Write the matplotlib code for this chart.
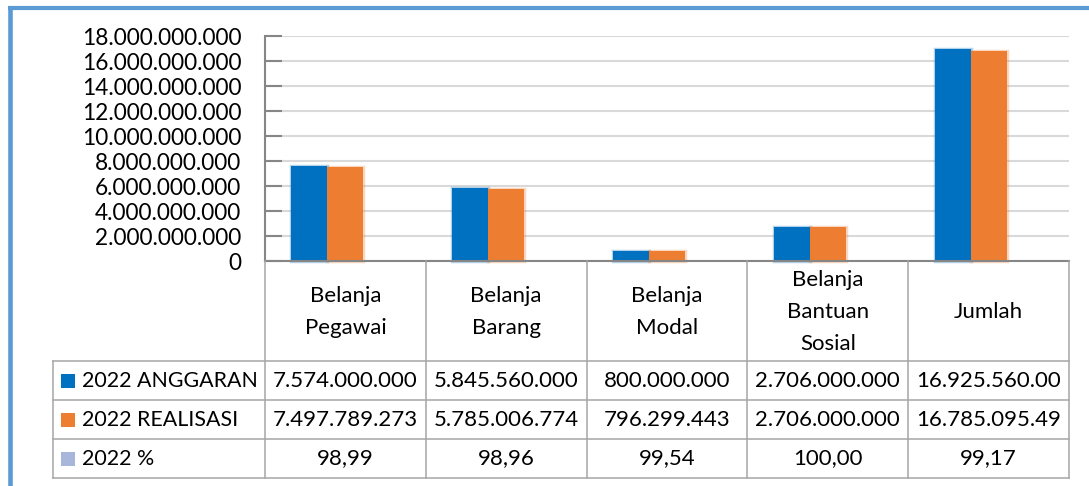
import matplotlib
matplotlib.use("Agg")
import matplotlib.pyplot as plt
from matplotlib.patches import Rectangle
from matplotlib.transforms import Bbox, TransformedBbox
from matplotlib.colors import to_rgba

# ---- data -------------------------------------------------------------
categories = ["Belanja\nPegawai", "Belanja\nBarang", "Belanja\nModal",
              "Belanja\nBantuan\nSosial", "Jumlah"]
series_names = ["2022 ANGGARAN", "2022 REALISASI", "2022 %"]
anggaran = [7574000000, 5845560000, 800000000, 2706000000, 16925560000]
realisasi = [7497789273, 5785006774, 796299443, 2706000000, 16785095490]
persen = [98.99, 98.96, 99.54, 100.00, 99.17]
y_ticks = [0, 2000000000, 4000000000, 6000000000, 8000000000,
           10000000000, 12000000000, 14000000000, 16000000000, 18000000000]

series_values = [anggaran, realisasi, persen]
series_colors = ["#0070C0", "#ED7D31", "#A9B6DB"]

# ---- layout (pixels) ---------------------------------------------------
W, H = 1089, 486
AX_L, AX_R, AX_T, AX_B = 265, 1069, 36, 261
TAB_L = 53
ROWS = [261, 361, 400, 439, 478]
GRID_C = "#D9D9D9"
AXIS_C = "#868686"
TABLE_C = "#A6A6A6"
FRAME_C = "#5B9BD5"

plt.rcParams["font.family"] = ["Lato", "DejaVu Sans"]
FS = 16

fig = plt.figure(figsize=(W / 100, H / 100), dpi=100)
fig.patch.set_facecolor("white")

ax = fig.add_axes([AX_L / W, 1 - AX_B / H, (AX_R - AX_L) / W, (AX_B - AX_T) / H])
n = len(categories)
bw = 0.224
for k, (vals, col) in enumerate(zip(series_values, series_colors)):
    xs = [i + (k - 1) * bw for i in range(n)]
    if k < 2:
        # soft halo around the visible bars
        ax.bar(xs, vals, bw, color="none", edgecolor=to_rgba(col, 0.3),
               linewidth=2.5, zorder=2, clip_on=False)
    ax.bar(xs, vals, bw, color=col, linewidth=0, zorder=3)

ax.set_xlim(-0.5, n - 0.5)
ax.set_ylim(0, y_ticks[-1])
ax.set_yticks(y_ticks)
ax.set_yticklabels([f"{v:,}".replace(",", ".") for v in y_ticks], fontsize=FS + 0.3)
ax.set_xticks([])
ax.yaxis.grid(True, color=GRID_C, linewidth=1.5)
ax.set_axisbelow(True)
ax.tick_params(axis="y", direction="in", length=12.5, width=1.5,
               color=AXIS_C, pad=17, labelcolor="black")
for side in ["top", "right", "bottom"]:
    ax.spines[side].set_visible(False)
ax.spines["left"].set_color(AXIS_C)
ax.spines["left"].set_linewidth(1.5)
ax.spines["left"].set_zorder(4)

# ---- overlay for the data table and frame -----------------------------
ov = fig.add_axes([0, 0, 1, 1], zorder=5)
ov.set_xlim(0, W)
ov.set_ylim(H, 0)
ov.axis("off")
ov.patch.set_alpha(0)

col_w = (AX_R - AX_L) / n
col_edges = [AX_L + i * col_w for i in range(n + 1)]
lw_tab = 1.1

# horizontal table lines
ov.plot([AX_L, AX_R], [ROWS[0], ROWS[0]], color=AXIS_C, lw=1.5)
for y in ROWS[1:]:
    ov.plot([TAB_L, AX_R], [y, y], color=TABLE_C, lw=lw_tab)
# vertical table lines
for x in col_edges:
    ov.plot([x, x], [ROWS[0], ROWS[-1]], color=TABLE_C, lw=lw_tab)
ov.plot([TAB_L, TAB_L], [ROWS[1], ROWS[-1]], color=TABLE_C, lw=lw_tab)

# category labels
for i, cat in enumerate(categories):
    cx = (col_edges[i] + col_edges[i + 1]) / 2
    ov.text(cx, (ROWS[0] + ROWS[1]) / 2 + 1, cat, ha="center", va="center",
            fontsize=FS, linespacing=1.74, multialignment="center")

# table body
fig.canvas.draw()
renderer = fig.canvas.get_renderer()
for r, (name, vals, col) in enumerate(zip(series_names, series_values, series_colors)):
    y0, y1 = ROWS[r + 1], ROWS[r + 2]
    cy = (y0 + y1) / 2
    ov.add_patch(Rectangle((61, cy - 7), 14, 14, facecolor=col, edgecolor="none"))
    ov.text(82, cy, name, ha="left", va="center", fontsize=FS - 0.6)
    for i, v in enumerate(vals):
        if isinstance(v, float):
            s = f"{v:.2f}".replace(".", ",")
        else:
            s = f"{v:,}".replace(",", ".")
        x0, x1 = col_edges[i], col_edges[i + 1]
        t = ov.text((x0 + x1) / 2, cy, s, ha="center", va="center", fontsize=FS)
        if t.get_window_extent(renderer).width > (x1 - x0) - 8:
            t.set_ha("left")
            t.set_x(x0 + 8)
            t.set_clip_box(TransformedBbox(Bbox([[x0, y0], [x1 - 8, y1]]), ov.transData))
            t.set_clip_on(True)

# outer frame (top and left edges)
ov.plot([8, W], [8, 8], color=FRAME_C, lw=3.0, solid_capstyle="butt")
ov.plot([10, 10], [6, H], color=FRAME_C, lw=3.3, solid_capstyle="butt")

fig.savefig("out.png", dpi=100)
